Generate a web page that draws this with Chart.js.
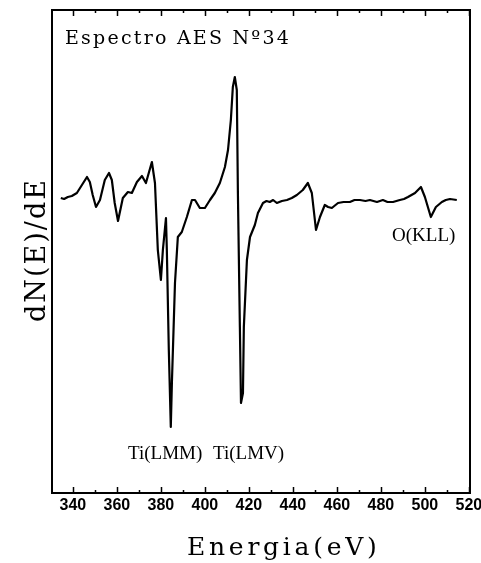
<!DOCTYPE html>
<html>
<head>
<meta charset="utf-8">
<script src="https://cdn.jsdelivr.net/npm/chart.js@4/dist/chart.umd.min.js"></script>
<style>
  html, body { margin: 0; padding: 0; background: #fff; }
  canvas { display: block; }
</style>
</head>
<body>
<canvas id="aes" width="481" height="563"></canvas>
<script>
// Kinetic energy (eV) and derivative signal dN(E)/dE (arbitrary units)
const energy = [
  334.5, 336.0, 337.7, 339.5, 341.8, 344.1, 346.4, 347.7, 349.0, 350.5,
  352.3, 354.5, 356.4, 357.7, 359.0, 360.5, 362.7, 365.0, 366.8, 369.1,
  371.4, 373.2, 375.9, 377.3, 378.6, 380.0, 380.9, 382.3, 382.7, 383.6,
  384.5, 385.0, 386.4, 387.7, 389.5, 391.8, 394.1, 395.5, 397.7, 400.0,
  402.3, 404.5, 406.8, 409.1, 410.5, 411.8, 412.7, 413.6, 414.5, 415.0,
  415.9, 416.4, 417.3, 417.7, 419.1, 420.5, 422.7, 424.1, 426.4, 428.0,
  429.5, 431.0, 432.7, 435.0, 437.3, 439.5, 441.8, 444.5, 446.8, 448.6,
  450.5, 452.3, 454.5, 456.0, 457.7, 460.5, 463.0, 465.9, 468.0, 470.5,
  473.0, 475.0, 478.2, 480.9, 483.0, 485.5, 488.6, 490.5, 492.3, 495.5,
  498.2, 500.0, 502.7, 505.0, 507.7, 509.5, 511.4, 514.5
];
const signal = [
  295, 294, 296, 297, 300, 308, 316, 311, 298, 286,
  293, 313, 320, 313, 290, 272, 295, 301, 300, 311,
  317, 310, 331, 310, 243, 213, 243, 275, 243, 143,
  66, 110, 210, 256, 261, 276, 293, 293, 285, 285,
  293, 300, 310, 326, 343, 373, 406, 416, 403, 300,
  166, 90, 100, 166, 233, 256, 268, 280, 290, 292,
  291, 293, 290, 292, 293, 295, 298, 303, 310, 300,
  263, 276, 288, 286, 285, 290, 291, 291, 293, 293,
  292, 293, 291, 293, 291, 291, 293, 294, 296, 300,
  306, 296, 276, 286, 291, 293, 294, 293
];

const xMin = 330.5;
const xMax = 520.5;
const tickValues = [340, 350, 360, 370, 380, 390, 400, 410, 420, 430, 440, 450, 460, 470, 480, 490, 500, 510, 520];
const labelledTicks = [340, 360, 380, 400, 420, 440, 460, 480, 500, 520];

const SERIF = '"Liberation Serif", "Times New Roman", serif';
const SLAB = '"DejaVu Serif", serif';

// Peak assignments written under the curve
const peakLabels = [
  { text: 'Ti(LMM)', x: 128, y: 459 },
  { text: 'Ti(LMV)', x: 213, y: 459 },
  { text: 'O(KLL)', x: 392, y: 241 }
];

// typewriter-style text: glyphs spread to a fixed advance per character
function spacedText(ctx, text, x, y, size, advance) {
  ctx.font = size + 'px ' + SLAB;
  const natural = ctx.measureText(text).width;
  ctx.letterSpacing = ((advance * text.length - natural) / text.length) + 'px';
  ctx.fillText(text, x, y);
  ctx.letterSpacing = '0px';
}

const framePlugin = {
  id: 'frame',
  afterDraw(chart) {
    const {ctx, chartArea: a, scales: {x}} = chart;
    ctx.save();
    ctx.strokeStyle = '#000';
    ctx.lineWidth = 2;
    ctx.strokeRect(a.left, a.top, a.right - a.left, a.bottom - a.top);

    // inward tick marks on top and bottom edges
    ctx.lineWidth = 1.5;
    tickValues.forEach((v) => {
      const px = Math.round(x.getPixelForValue(v)) + 0.5;
      const len = labelledTicks.includes(v) ? 6 : 3;
      ctx.beginPath();
      ctx.moveTo(px, a.bottom);
      ctx.lineTo(px, a.bottom - len);
      ctx.moveTo(px, a.top);
      ctx.lineTo(px, a.top + len);
      ctx.stroke();
    });

    ctx.fillStyle = '#000';
    ctx.textAlign = 'left';
    ctx.textBaseline = 'alphabetic';
    spacedText(ctx, 'Espectro AES Nº34', 65, 44, 19, 13.3);

    ctx.font = '19px ' + SERIF;
    peakLabels.forEach((p) => ctx.fillText(p.text, p.x, p.y));

    spacedText(ctx, 'Energia(eV)', 187, 555, 25, 17.6);

    ctx.translate(45, 322);
    ctx.rotate(-Math.PI / 2);
    spacedText(ctx, 'dN(E)/dE', 0, 0, 27, 18);
    ctx.restore();
  }
};

const data = energy.map((e, i) => ({x: e, y: signal[i]}));

new Chart(document.getElementById('aes'), {
  type: 'line',
  data: {
    datasets: [{
      data: data,
      borderColor: '#000',
      borderWidth: 2.2,
      borderJoinStyle: 'round',
      pointRadius: 0,
      tension: 0,
      fill: false
    }]
  },
  options: {
    responsive: false,
    animation: false,
    layout: {padding: {left: 52, top: 10, right: 11, bottom: 0}},
    plugins: {legend: {display: false}, tooltip: {enabled: false}},
    scales: {
      x: {
        type: 'linear',
        min: xMin,
        max: xMax,
        afterBuildTicks(scale) {
          scale.ticks = tickValues.map((v) => ({value: v}));
        },
        afterFit(scale) {
          scale.height = 70;
          scale.paddingLeft = 0;
          scale.paddingRight = 0;
        },
        grid: {display: false, drawTicks: false},
        border: {display: false},
        ticks: {
          autoSkip: false,
          maxRotation: 0,
          padding: 3,
          color: '#000',
          font: {family: '"Liberation Sans", Arial, sans-serif', size: 16, weight: 'bold'},
          callback: (v) => labelledTicks.includes(v) ? String(v) : ''
        }
      },
      y: {
        display: false,
        min: 0,
        max: 483
      }
    }
  },
  plugins: [framePlugin]
});
</script>
</body>
</html>
